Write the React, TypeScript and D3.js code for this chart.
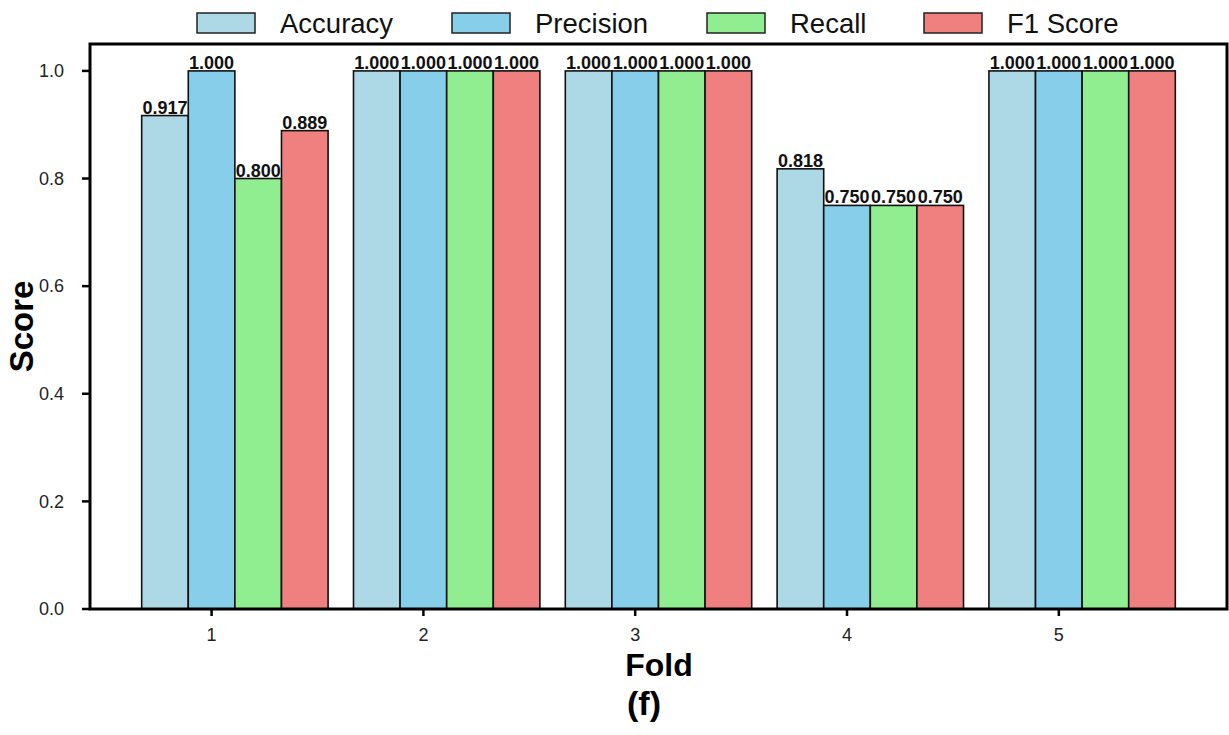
import React from "react";
import * as d3 from "d3";

const folds = ["1", "2", "3", "4", "5"];
const metrics = ["Accuracy", "Precision", "Recall", "F1 Score"];
const accuracy = [0.917, 1.0, 1.0, 0.818, 1.0];
const precision = [1.0, 1.0, 1.0, 0.75, 1.0];
const recall = [0.8, 1.0, 1.0, 0.75, 1.0];
const f1Score = [0.889, 1.0, 1.0, 0.75, 1.0];
const yTicks = [0, 0.2, 0.4, 0.6, 0.8, 1.0];
const colors = ["#ADD8E6", "#87CEEB", "#90EE90", "#F08080"];

const series = [accuracy, precision, recall, f1Score];

const W = 1229;
const H = 735;
const plot = { left: 90, right: 1227, top: 44, bottom: 609 };
const barWidth = 0.22;
const FONT = "'Liberation Sans', Arial, sans-serif";

export default function App() {
  const x = d3.scaleLinear().domain([-0.574, 4.794]).range([plot.left, plot.right]);
  const y = d3.scaleLinear().domain([0, 1.05]).range([plot.bottom, plot.top]);
  const bw = x(barWidth) - x(0);
  const legendX = [197, 452, 707, 924];

  return (
    <svg
      width={W}
      height={H}
      style={{ position: "absolute", left: 0, top: 0, background: "#fff" }}
      fontFamily={FONT}
    >
      {/* bars: each fold's tick sits under the Precision bar */}
      {series.map((vals, si) =>
        vals.map((v, fi) => {
          const x0 = x(fi + (si - 1) * barWidth - barWidth / 2);
          return (
            <g key={`${si}-${fi}`}>
              <rect
                x={x0}
                y={y(v)}
                width={bw}
                height={y(0) - y(v)}
                fill={colors[si]}
                stroke="#111"
                strokeWidth={1.6}
              />
              <text
                x={x0 + bw / 2}
                y={y(v) - 2}
                textAnchor="middle"
                fontSize={18}
                fontWeight="bold"
                fill="#111"
              >
                {v.toFixed(3)}
              </text>
            </g>
          );
        })
      )}

      {/* frame */}
      <rect
        x={plot.left}
        y={plot.top}
        width={plot.right - plot.left}
        height={plot.bottom - plot.top}
        fill="none"
        stroke="#000"
        strokeWidth={3}
      />

      {/* y axis */}
      {yTicks.map((t) => (
        <g key={t}>
          <line x1={plot.left - 8} x2={plot.left} y1={y(t)} y2={y(t)} stroke="#000" strokeWidth={2.5} />
          <text x={plot.left - 26} y={y(t)} dy="0.35em" textAnchor="end" fontSize={18} fill="#222">
            {t.toFixed(1)}
          </text>
        </g>
      ))}

      {/* x axis */}
      {folds.map((f, i) => (
        <g key={f}>
          <line x1={x(i)} x2={x(i)} y1={plot.bottom} y2={plot.bottom + 7} stroke="#000" strokeWidth={2.5} />
          <text x={x(i)} y={plot.bottom + 32} textAnchor="middle" fontSize={18} fill="#222">
            {f}
          </text>
        </g>
      ))}

      {/* axis titles */}
      <text x={659} y={676} textAnchor="middle" fontSize={32} fontWeight="bold">
        Fold
      </text>
      <text
        transform={`translate(33, ${(plot.top + plot.bottom) / 2}) rotate(-90)`}
        textAnchor="middle"
        fontSize={33}
        fontWeight="bold"
      >
        Score
      </text>
      <text x={644} y={715} textAnchor="middle" fontSize={34} fontWeight="bold">
        (f)
      </text>

      {/* legend */}
      {metrics.map((m, i) => (
        <g key={m}>
          <rect x={legendX[i]} y={13} width={58} height={20} fill={colors[i]} stroke="#222" strokeWidth={1.5} />
          <text x={legendX[i] + 83} y={23} dy="0.36em" fontSize={27.5} fill="#111">
            {m}
          </text>
        </g>
      ))}
    </svg>
  );
}
